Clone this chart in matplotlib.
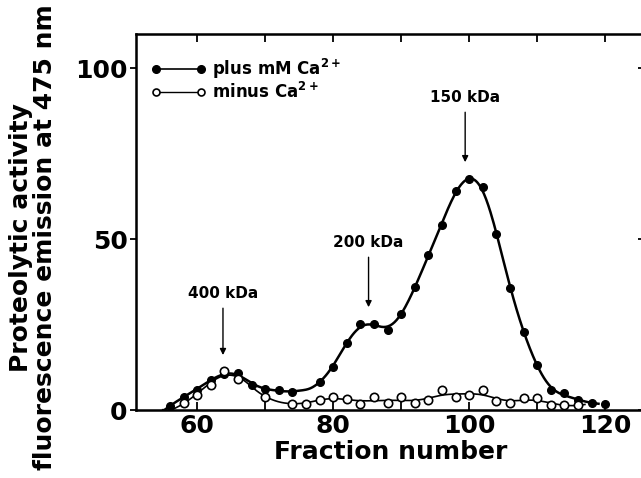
import numpy as np
import matplotlib
matplotlib.use("Agg")
import matplotlib.pyplot as plt
from matplotlib.lines import Line2D

plt.rcParams['font.family'] = 'DejaVu Sans'
plt.rcParams['font.weight'] = 'bold'
plt.rcParams['mathtext.default'] = 'bf'

# fraction number / fluorescence
plus_x = [56, 58, 60, 62, 64, 66, 68, 70, 72, 74, 78, 80, 82, 84, 86, 88,
          90, 92, 94, 96, 98, 100, 102, 104, 106, 108, 110, 112, 114, 116, 118, 120]
plus_y = [1.2, 3.9, 6.0, 8.8, 10.5, 10.9, 7.3, 6.3, 5.8, 5.4, 8.1, 12.7, 19.5, 25.1, 25.3, 23.4,
          28.1, 35.9, 45.5, 54.0, 64.1, 67.5, 65.3, 51.4, 35.6, 22.9, 13.2, 6.0, 4.9, 3.1, 2.1, 1.8]

minus_x = [58, 60, 62, 64, 66, 70, 74, 76, 78, 80, 82, 84, 86, 88, 90, 92, 94,
           96, 98, 100, 102, 104, 106, 108, 110, 112, 114, 116]
minus_y = [2.0, 4.4, 7.3, 11.5, 9.2, 3.7, 1.8, 1.8, 3.1, 3.7, 3.3, 1.8, 3.7, 2.0, 3.9, 2.1, 2.9,
           5.8, 3.9, 4.4, 5.8, 2.7, 2.0, 3.4, 3.4, 1.4, 1.4, 1.4]

# molecular weight markers: label, fraction, arrow start / end
mw_labels = ["400 kDa", "200 kDa", "150 kDa"]
mw_frac = [63.8, 85.2, 99.4]
mw_top = [29.8, 44.7, 87.1]
mw_tip = [16.1, 30.1, 72.5]


def smooth(x, y, grid, bw):
    # local quadratic fit, gaussian weights
    x = np.asarray(x, float)
    y = np.asarray(y, float)
    out = []
    for g in grid:
        w = np.sqrt(np.exp(-0.5 * ((x - g) / bw) ** 2))
        A = np.vstack([np.ones_like(x), x - g, (x - g) ** 2]).T
        coef = np.linalg.lstsq(A * w[:, None], y * w, rcond=None)[0]
        out.append(coef[0])
    return np.clip(np.array(out), 0, None)


fig = plt.figure(figsize=(6.41, 4.78), dpi=100)
ax = fig.add_axes([0.212, 0.142, 0.796, 0.787])

g1 = np.linspace(55, 119, 400)
g2 = np.linspace(56, 117, 400)
ax.plot(g1, smooth(plus_x, plus_y, g1, 2.1), color='black', lw=1.8)
ax.plot(g2, smooth(minus_x, minus_y, g2, 2.8), color='black', lw=1.2)
ax.plot(plus_x, plus_y, 'o', color='black', ms=5.5, zorder=3)
ax.plot(minus_x, minus_y, 'o', mfc='white', mec='black', mew=1.2, ms=6, zorder=3)

for lab, fx, top, tip in zip(mw_labels, mw_frac, mw_top, mw_tip):
    ax.annotate('', xy=(fx, tip), xytext=(fx, top),
                arrowprops=dict(arrowstyle='-|>', color='black', lw=1.0,
                                mutation_scale=9, shrinkA=0, shrinkB=0))
    ax.text(fx, top + 2.0, lab, ha='center', va='bottom', fontsize=11, fontweight='bold')

h1 = Line2D([], [], color='black', lw=1.2, marker='o', ms=5.5)
h2 = Line2D([], [], color='black', lw=1.0, marker='o', mfc='white', mew=1.2, ms=5)
ax.legend([h1, h2], ['plus mM Ca$^{2+}$', 'minus Ca$^{2+}$'], loc='upper left',
          bbox_to_anchor=(0.0, 0.98), frameon=False, numpoints=2, handlelength=3.3,
          handletextpad=0.35, labelspacing=0.1, prop={'size': 12, 'weight': 'bold'})

ax.set_xlim(51, 126)
ax.set_ylim(0, 110)
ax.set_xticks([60, 80, 100, 120])
ax.set_xticks([70, 90, 110], minor=True)
ax.set_yticks([0, 50, 100])
ax.tick_params(axis='x', which='both', direction='in', top=True, length=6, width=1.3,
               labelsize=18, pad=3)
ax.tick_params(axis='y', which='both', direction='out', length=4, width=1.3, labelsize=18, pad=2)
for s in ax.spines.values():
    s.set_linewidth(1.8)
ax.set_xlabel('Fraction number', fontsize=18, fontweight='bold', labelpad=1)
ax.set_ylabel('Proteolytic activity\nfluorescence emission at 475 nm', fontsize=18,
              fontweight='bold', linespacing=1.0)
ax.yaxis.set_label_coords(-0.155, 0.46)

# right side ticks pointing inward
ax2 = ax.twinx()
ax2.set_ylim(0, 110)
ax2.set_yticks([0, 50, 100])
ax2.tick_params(axis='y', direction='in', length=6, width=1.3, labelright=False)

fig.savefig('out.png', dpi=100)
